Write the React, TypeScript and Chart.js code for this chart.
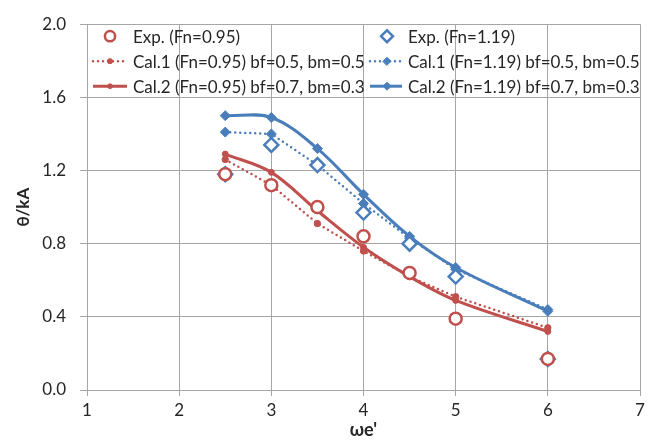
import React, { useEffect, useRef } from "react";
import { Chart, registerables } from "chart.js";

Chart.register(...registerables);

const X_VALUES = [2.5, 3, 3.5, 4, 4.5, 5, 6];
const EXP_095 = [1.18, 1.12, 1.0, 0.84, 0.64, 0.39, 0.17];
const CAL1_095 = [1.26, 1.12, 0.91, 0.76, 0.62, 0.51, 0.34];
const CAL2_095 = [1.29, 1.19, 0.98, 0.78, 0.62, 0.49, 0.32];
const EXP_119 = [1.18, 1.34, 1.23, 0.97, 0.8, 0.62, 0.17];
const CAL1_119 = [1.41, 1.4, 1.23, 1.02, 0.83, 0.66, 0.44];
const CAL2_119 = [1.5, 1.49, 1.32, 1.07, 0.84, 0.67, 0.43];

const LABELS = [
  "Exp. (Fn=0.95)",
  "Cal.1 (Fn=0.95) bf=0.5, bm=0.5",
  "Cal.2 (Fn=0.95) bf=0.7, bm=0.3",
  "Exp. (Fn=1.19)",
  "Cal.1 (Fn=1.19) bf=0.5, bm=0.5",
  "Cal.2 (Fn=1.19) bf=0.7, bm=0.3",
];
const X_TICKS = [1, 2, 3, 4, 5, 6, 7];
const Y_TICKS = [0, 0.4, 0.8, 1.2, 1.6, 2.0];

const RED = "#C0504D";
const BLUE = "#4A7EBB";
const GRID = "#A6A6A6";
const FONT = "Lato, 'Open Sans', sans-serif";
const TEXT = "#262626";

const pts = (ys: number[]) => X_VALUES.map((x, i) => ({ x, y: ys[i] }));

type Style = {
  color: string;
  line: "none" | "dot" | "solid";
  marker: "circle" | "rectRot";
  radius: number;
  hollow: boolean;
  markerWidth: number;
};

const STYLES: Style[] = [
  { color: RED, line: "none", marker: "circle", radius: 6, hollow: true, markerWidth: 2.5 },
  { color: RED, line: "dot", marker: "circle", radius: 3.2, hollow: false, markerWidth: 1 },
  { color: RED, line: "solid", marker: "circle", radius: 3, hollow: false, markerWidth: 1 },
  { color: BLUE, line: "none", marker: "rectRot", radius: 7, hollow: true, markerWidth: 2.5 },
  { color: BLUE, line: "dot", marker: "rectRot", radius: 5, hollow: false, markerWidth: 1 },
  { color: BLUE, line: "solid", marker: "rectRot", radius: 5, hollow: false, markerWidth: 1 },
];

function drawMarker(ctx: CanvasRenderingContext2D, s: Style, x: number, y: number, scale: number) {
  const r = s.radius * scale;
  ctx.beginPath();
  if (s.marker === "circle") {
    ctx.arc(x, y, r, 0, Math.PI * 2);
  } else {
    ctx.moveTo(x - r, y);
    ctx.lineTo(x, y - r);
    ctx.lineTo(x + r, y);
    ctx.lineTo(x, y + r);
    ctx.closePath();
  }
  ctx.fillStyle = s.hollow ? "#ffffff" : s.color;
  ctx.fill();
  ctx.lineWidth = s.markerWidth;
  ctx.strokeStyle = s.color;
  ctx.setLineDash([]);
  ctx.stroke();
}

const legendPlugin = {
  id: "insideLegend",
  afterDraw(chart: any) {
    const ctx: CanvasRenderingContext2D = chart.ctx;
    const area = chart.chartArea;
    const cols = [
      { lineL: area.left + 6, lineR: area.left + 40, mark: area.left + 23, text: area.left + 46 },
      { lineL: area.left + 283, lineR: area.left + 315, mark: area.left + 300, text: area.left + 321 },
    ];
    const rows = [area.top + 12, area.top + 37, area.top + 62];
    ctx.save();
    ctx.font = `17px ${FONT}`;
    ctx.textBaseline = "middle";
    ctx.textAlign = "left";
    LABELS.forEach((label, i) => {
      const s = STYLES[i];
      const c = cols[Math.floor(i / 3)];
      const y = rows[i % 3];
      if (s.line !== "none") {
        ctx.beginPath();
        ctx.moveTo(c.lineL, y);
        ctx.lineTo(c.lineR, y);
        ctx.strokeStyle = s.color;
        ctx.lineWidth = s.line === "dot" ? 2.5 : 3;
        ctx.lineCap = s.line === "dot" ? "round" : "butt";
        ctx.setLineDash(s.line === "dot" ? [0, 5] : []);
        ctx.stroke();
      }
      drawMarker(ctx, s, c.mark, y, i % 3 === 0 ? 0.85 : 0.8);
      ctx.fillStyle = TEXT;
      ctx.fillText(label, c.text, y + 1);
    });
    ctx.restore();
  },
};

export default function App() {
  const ref = useRef<HTMLCanvasElement | null>(null);

  useEffect(() => {
    if (!ref.current) return;
    const series = [EXP_095, CAL1_095, CAL2_095, EXP_119, CAL1_119, CAL2_119];
    // draw Exp on top
    const order = [0, 3, 1, 4, 2, 5];
    const datasets = order.map((idx) => {
      const s = STYLES[idx];
      return {
        label: LABELS[idx],
        data: pts(series[idx]),
        showLine: s.line !== "none",
        borderColor: s.color,
        backgroundColor: s.hollow ? "#ffffff" : s.color,
        borderWidth: s.line === "dot" ? 2.5 : 3,
        borderDash: s.line === "dot" ? [0, 5] : [],
        borderCapStyle: s.line === "dot" ? "round" : "butt",
        tension: s.line === "solid" ? 0.35 : 0,
        pointStyle: s.marker,
        pointRadius: s.radius,
        pointBorderWidth: s.markerWidth,
        pointBorderColor: s.color,
        pointBackgroundColor: s.hollow ? "#ffffff" : s.color,
        pointHoverRadius: s.radius,
      };
    });

    const chart = new Chart(ref.current, {
      type: "scatter",
      data: { datasets: datasets as any },
      plugins: [legendPlugin],
      options: {
        animation: false,
        responsive: false,
        events: [],
        layout: { padding: { top: 17, right: 13, bottom: 0, left: 0 } },
        plugins: { legend: { display: false }, tooltip: { enabled: false } },
        scales: {
          x: {
            type: "linear",
            min: X_TICKS[0],
            max: X_TICKS[X_TICKS.length - 1],
            afterBuildTicks: (axis: any) => {
              axis.ticks = X_TICKS.map((v) => ({ value: v }));
            },
            afterFit: (axis: any) => {
              axis.height = 51;
            },
            grid: { color: GRID, lineWidth: 1, tickLength: 6, drawTicks: true, tickColor: GRID },
            border: { color: GRID, width: 1 },
            ticks: { color: TEXT, font: { family: FONT, size: 17 }, padding: 4 },
            title: {
              display: true,
              text: "ωe'",
              color: TEXT,
              font: { family: FONT, size: 18, weight: "bold" },
              padding: { top: 0, bottom: 0 },
            },
          },
          y: {
            type: "linear",
            min: Y_TICKS[0],
            max: Y_TICKS[Y_TICKS.length - 1],
            afterBuildTicks: (axis: any) => {
              axis.ticks = Y_TICKS.map((v) => ({ value: v }));
            },
            afterFit: (axis: any) => {
              axis.width = 87;
            },
            grid: { color: GRID, lineWidth: 1, tickLength: 7, drawTicks: true, tickColor: GRID },
            border: { color: GRID, width: 1 },
            ticks: {
              color: TEXT,
              font: { family: FONT, size: 17 },
              padding: 14,
              callback: (v: any) => Number(v).toFixed(1),
            },
            title: {
              display: true,
              text: "θ/kA",
              color: TEXT,
              font: { family: FONT, size: 17, weight: "bold" },
              padding: { top: 13, bottom: 0 },
            },
          },
        },
      } as any,
    });
    return () => chart.destroy();
  }, []);

  return (
    <div style={{ position: "absolute", left: 0, top: 0, width: 653, height: 441, background: "#fff" }}>
      <canvas ref={ref} width={653} height={441} style={{ display: "block" }} />
    </div>
  );
}
